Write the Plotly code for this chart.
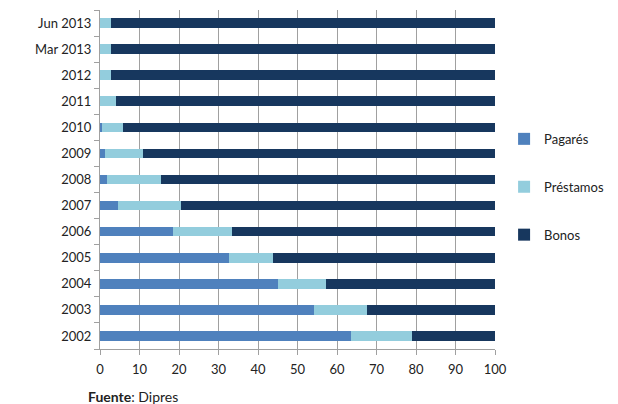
import plotly.graph_objects as go

categories = ["2002", "2003", "2004", "2005", "2006", "2007", "2008", "2009",
              "2010", "2011", "2012", "Mar 2013", "Jun 2013"]
pagares = [63.6, 54.3, 45.0, 32.6, 18.5, 4.5, 1.8, 1.3, 0.6, 0.0, 0.0, 0.0, 0.0]
prestamos = [15.3, 13.2, 12.1, 11.2, 14.9, 16.0, 13.6, 9.5, 5.1, 4.1, 2.9, 2.9, 2.9]
bonos = [round(100 - a - b, 1) for a, b in zip(pagares, prestamos)]
x_ticks = list(range(0, 101, 10))

fig = go.Figure()
fig.add_trace(go.Bar(y=categories, x=pagares, name="Pagarés", orientation="h",
                     marker=dict(color="#4F81BD", line=dict(width=0)), legendgroup="a"))
fig.add_trace(go.Bar(y=categories, x=prestamos, name="Préstamos", orientation="h",
                     marker=dict(color="#93CDDD", line=dict(width=0)), legendgroup="b"))
fig.add_trace(go.Bar(y=categories, x=bonos, name="Bonos", orientation="h",
                     marker=dict(color="#17375E", line=dict(width=0)), legendgroup="c"))

fig.update_layout(
    barmode="stack",
    bargap=0.63,
    width=610, height=396,
    margin=dict(l=92, r=123, t=2, b=55, autoexpand=False),
    paper_bgcolor="white", plot_bgcolor="white",
    font=dict(family="Lato, Open Sans, sans-serif", size=13, color="#222"),
    showlegend=True,
    legend=dict(x=1.023, y=0.664, xanchor="left", yanchor="top",
                traceorder="grouped", tracegroupgap=28,
                font=dict(size=13), itemwidth=30),
    xaxis=dict(range=[0, 100], tickvals=x_ticks, showgrid=True, gridcolor="#A0A0A0",
               gridwidth=1, zeroline=False, showline=True, linecolor="#A0A0A0",
               ticks="outside", ticklen=5, tickcolor="#A0A0A0", ticklabelstandoff=3),
    yaxis=dict(type="category", categoryorder="array", categoryarray=categories,
               showline=True, linecolor="#A0A0A0", ticks="outside", ticklen=5,
               tickcolor="#A0A0A0", tickson="boundaries", showgrid=False,
               ticklabelstandoff=5),
    annotations=[dict(text="<b>Fuente</b>: Dipres", x=-0.035, y=-0.139, xref="paper", yref="paper",
                      xanchor="left", yanchor="middle", showarrow=False, font=dict(size=14))],
)

fig.write_html("out.html")
